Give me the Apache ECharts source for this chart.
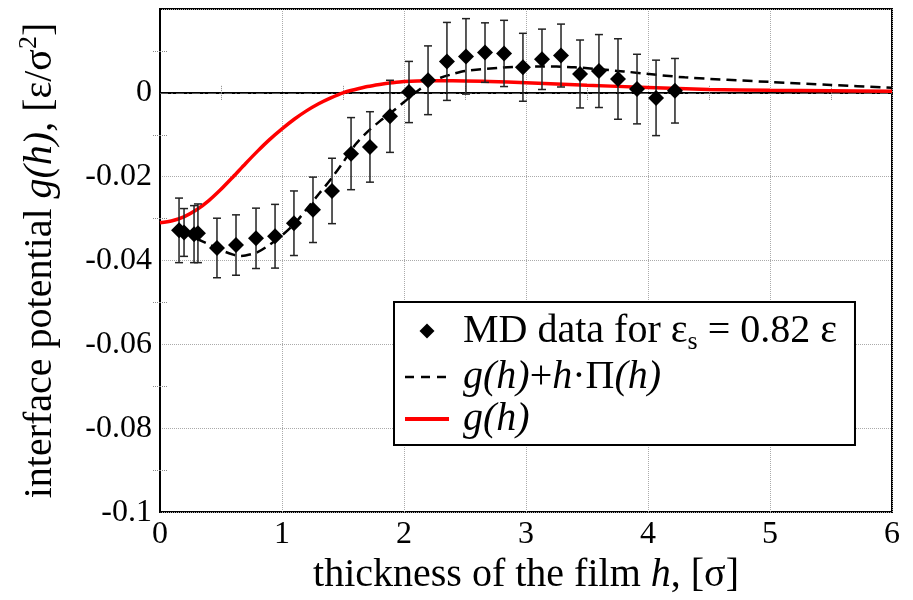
<!DOCTYPE html>
<html>
<head>
<meta charset="utf-8">
<script src="https://cdn.jsdelivr.net/npm/echarts@6/dist/echarts.min.js"></script>
<style>html,body{margin:0;padding:0;background:#fff;}#c{width:913px;height:600px;}</style>
</head>
<body>
<div id="c"></div>
<script>
// ---- data ----
var hMD = [0.156, 0.197, 0.279, 0.311, 0.467, 0.623, 0.787, 0.943, 1.098, 1.254, 1.41, 1.566, 1.721, 1.885, 2.041, 2.197, 2.352, 2.508, 2.664, 2.82, 2.975, 3.131, 3.287, 3.443, 3.598, 3.754, 3.91, 4.066, 4.221];
var gMD = [-0.0328, -0.0333, -0.0337, -0.0335, -0.0370, -0.0363, -0.0347, -0.0342, -0.0311, -0.0279, -0.0234, -0.0145, -0.0129, -0.0056, 0.0002, 0.0030, 0.0075, 0.0087, 0.0096, 0.0094, 0.0061, 0.0080, 0.0089, 0.0045, 0.0052, 0.0033, 0.0009, -0.0012, 0.0005];
var errMD = [0.0077, 0.0057, 0.0068, 0.0070, 0.0071, 0.0072, 0.0072, 0.0076, 0.0077, 0.0078, 0.0078, 0.0086, 0.0084, 0.0086, 0.0073, 0.0082, 0.0093, 0.0090, 0.0071, 0.0079, 0.0081, 0.0072, 0.0075, 0.0081, 0.0087, 0.0096, 0.0083, 0.0090, 0.0077];

var hG = [0, 0.1, 0.2, 0.3, 0.4, 0.5, 0.6, 0.7, 0.8, 0.9, 1.0, 1.1, 1.2, 1.3, 1.4, 1.5, 1.6, 1.7, 1.8, 1.9, 2.0, 2.2, 2.4, 2.7, 3.0, 3.5, 4.0, 4.5, 5.0, 5.5, 6.0];
var gG = [-0.0310, -0.0305, -0.0295, -0.0279, -0.0257, -0.0230, -0.0200, -0.0169, -0.0139, -0.0111, -0.0086, -0.0063, -0.0043, -0.0026, -0.0012, 0.0000, 0.0008, 0.0015, 0.0020, 0.0024, 0.0027, 0.0029, 0.0029, 0.0027, 0.0024, 0.0018, 0.0013, 0.0008, 0.0006, 0.0005, 0.0004];

var hGP = [0.3, 0.4, 0.5, 0.6, 0.65, 0.7, 0.8, 0.9, 1.0, 1.1, 1.2, 1.3, 1.4, 1.5, 1.6, 1.7, 1.8, 1.9, 2.0, 2.1, 2.2, 2.3, 2.4, 2.5, 2.8, 3.1, 3.4, 3.8, 4.3, 5.0, 5.5, 6.0];
var gGP = [-0.0348, -0.0361, -0.0375, -0.0386, -0.0389, -0.0388, -0.0380, -0.0362, -0.0340, -0.0313, -0.0278, -0.0242, -0.0206, -0.0166, -0.0124, -0.0093, -0.0068, -0.0046, -0.0022, 0.0002, 0.0022, 0.0036, 0.0045, 0.0052, 0.0060, 0.0063, 0.0061, 0.0051, 0.0037, 0.0026, 0.0019, 0.0012];

var xTicks = [0, 1, 2, 3, 4, 5, 6];
var xTickLabels = ['0', '1', '2', '3', '4', '5', '6'];
var yTicks = [-0.1, -0.08, -0.06, -0.04, -0.02, 0, 0.02];
var yTickLabels = ['-0.1', '-0.08', '-0.06', '-0.04', '-0.02', '0', ''];

var legendLabels = {
  md: 'MD data for ε{sub|s} = 0.82 ε',
  gp: '{i|g(h)}+{i|h}·Π{i|(h)}',
  g: '{i|g(h)}'
};

function pair(xs, ys) { return xs.map(function (x, i) { return [x, ys[i]]; }); }
function lookup(ticks, labels, v) {
  var best = 0;
  for (var i = 1; i < ticks.length; i++) if (Math.abs(ticks[i] - v) < Math.abs(ticks[best] - v)) best = i;
  return labels[best];
}

var FONT = '"Liberation Serif", "Times New Roman", "DejaVu Serif", serif';
var chart = echarts.init(document.getElementById('c'), null, { renderer: 'canvas' });

var minorStyle = { show: true, splitNumber: 2, length: 7, lineStyle: { color: '#888', width: 1, type: 'dotted' } };
var tickStyle = { show: false };
var hideSym = { color: 'rgba(0,0,0,0)', borderWidth: 0, opacity: 0 };

chart.setOption({
  animation: false,
  backgroundColor: '#fff',
  grid: { left: 160, top: 9, right: 21, bottom: 80, show: true, borderColor: '#000', borderWidth: 2, backgroundColor: 'transparent', containLabel: false },
  legend: {
    orient: 'vertical',
    left: 394, top: 302,
    padding: [5, 18, 6, 9],
    itemGap: 2,
    itemWidth: 44, itemHeight: 15,
    symbolKeepAspect: true,
    backgroundColor: '#fff',
    borderColor: '#000', borderWidth: 2, borderRadius: 0,
    data: [
      { name: 'md', icon: 'path://M0,-1L1,0L0,1L-1,0Z', itemStyle: { color: '#000', opacity: 1 } },
      { name: 'gp', itemStyle: hideSym, lineStyle: { color: '#000', width: 2.5, type: [9, 7] } },
      { name: 'g', itemStyle: hideSym, lineStyle: { color: '#ff0000', width: 4 } }
    ],
    formatter: function (n) { return legendLabels[n]; },
    textStyle: {
      fontFamily: FONT, fontSize: 40, color: '#000', lineHeight: 40, padding: [0, 0, 0, 9],
      rich: {
        i: { fontFamily: FONT, fontSize: 40, fontStyle: 'italic', color: '#000', lineHeight: 40 },
        sub: { fontFamily: FONT, fontSize: 26, color: '#000', lineHeight: 40, padding: [22, 0, 0, 0] }
      }
    }
  },
  xAxis: [{
    type: 'value', min: 0, max: 6, interval: 1,
    axisLine: { show: true, lineStyle: { color: '#000', width: 2 } },
    axisTick: tickStyle,
    minorTick: minorStyle,
    splitLine: { show: true, lineStyle: { color: '#aaa', width: 1, type: 'dotted' } },
    axisLabel: { fontFamily: FONT, fontSize: 32, color: '#000', margin: 6,
      formatter: function (v) { return lookup(xTicks, xTickLabels, v); } },
    name: 'thickness of the film {i|h}, [σ]',
    nameLocation: 'middle', nameGap: 37,
    nameTextStyle: { fontFamily: FONT, fontSize: 40, color: '#000',
      rich: { i: { fontFamily: FONT, fontSize: 40, fontStyle: 'italic', color: '#000' } } }
  }, {
    type: 'value', min: 0, max: 6, interval: 1, position: 'top',
    axisLine: { show: false }, axisTick: tickStyle, minorTick: minorStyle,
    splitLine: { show: false }, axisLabel: { show: false }
  }],
  yAxis: [{
    type: 'value', min: -0.1, max: 0.02, interval: 0.02,
    axisLine: { show: true, lineStyle: { color: '#000', width: 2 } },
    axisTick: tickStyle,
    minorTick: minorStyle,
    splitLine: { show: true, lineStyle: { color: '#aaa', width: 1, type: 'dotted' } },
    axisLabel: { fontFamily: FONT, fontSize: 32, color: '#000', margin: 8,
      formatter: function (v) { return lookup(yTicks, yTickLabels, v); } },
    name: 'interface potential {i|g(h)}, [ε/σ{sup|2}]',
    nameLocation: 'middle', nameGap: 96, nameRotate: 90,
    nameTextStyle: { fontFamily: FONT, fontSize: 40, color: '#000',
      rich: {
        i: { fontFamily: FONT, fontSize: 40, fontStyle: 'italic', color: '#000' },
        sup: { fontFamily: FONT, fontSize: 26, color: '#000', padding: [0, 0, 22, 0] }
      } }
  }, {
    type: 'value', min: -0.1, max: 0.02, interval: 0.02, position: 'right',
    axisLine: { show: false }, axisTick: tickStyle, minorTick: minorStyle,
    splitLine: { show: false }, axisLabel: { show: false }
  }],
  series: [
    {
      name: 'gp', type: 'line', data: pair(hGP, gGP), smooth: 0.3, showSymbol: false, symbol: 'none',
      lineStyle: { color: '#000', width: 2.5, type: [10, 6] }, itemStyle: { color: '#000' }, z: 3,
      markLine: { silent: true, symbol: 'none', label: { show: false },
        lineStyle: { color: '#555', width: 1.2, type: [8, 3, 2, 3] }, data: [{ yAxis: 0 }], z: 2 }
    },
    {
      name: 'g', type: 'line', data: pair(hG, gG), smooth: 0.3, showSymbol: false, symbol: 'none',
      lineStyle: { color: '#ff0000', width: 3.5 }, itemStyle: { color: '#ff0000' }, z: 4
    },
    {
      name: 'err', type: 'custom', z: 5,
      data: hMD.map(function (h, i) { return [h, gMD[i], errMD[i]]; }),
      renderItem: function (params, api) {
        var x = api.value(0), y = api.value(1), e = api.value(2);
        var top = api.coord([x, y + e]), bot = api.coord([x, y - e]);
        var c = 4;
        var st = { stroke: '#222', lineWidth: 1.5 };
        return { type: 'group', children: [
          { type: 'line', shape: { x1: top[0], y1: top[1], x2: bot[0], y2: bot[1] }, style: st },
          { type: 'line', shape: { x1: top[0] - c, y1: top[1], x2: top[0] + c, y2: top[1] }, style: st },
          { type: 'line', shape: { x1: bot[0] - c, y1: bot[1], x2: bot[0] + c, y2: bot[1] }, style: st }
        ] };
      },
      encode: { x: 0, y: 1 }
    },
    {
      name: 'md', type: 'scatter', data: pair(hMD, gMD), symbol: 'diamond', symbolSize: 16,
      itemStyle: { color: '#000', opacity: 1 }, z: 6
    }
  ]
});
</script>
</body>
</html>
